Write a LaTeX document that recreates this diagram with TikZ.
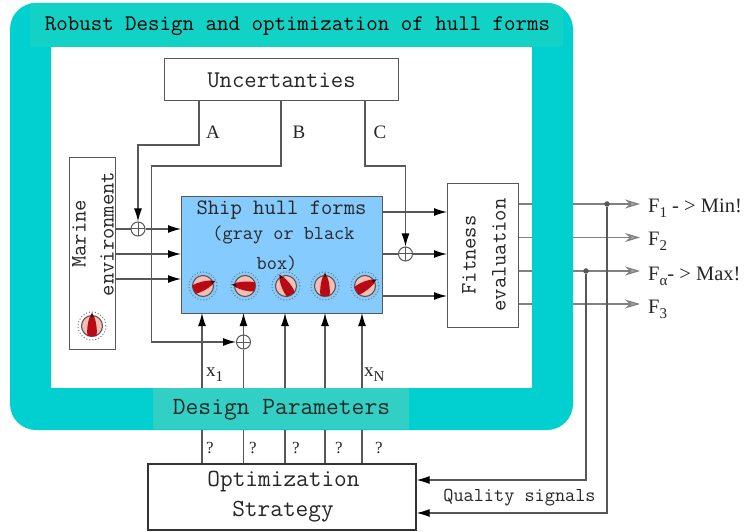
\documentclass[tikz,border=0pt]{standalone}
\usepackage{fontspec}
\setmainfont{Liberation Serif}
\setmonofont{Latin Modern Mono}
\usetikzlibrary{arrows.meta}
\definecolor{frameteal}{HTML}{02D0D0}
\definecolor{titleteal}{HTML}{12D2C6}
\definecolor{designteal}{HTML}{32D0C4}
\definecolor{hullblue}{HTML}{85CBFD}
\definecolor{linegray}{HTML}{585858}
\definecolor{dialpink}{HTML}{F8BDB4}
\definecolor{dialred}{HTML}{B80A14}
\newcommand{\ttsize}[1]{\fontsize{#1}{#1}\selectfont\ttfamily}
\newcommand{\rmsize}[1]{\fontsize{#1}{#1}\selectfont\rmfamily}
\newcommand{\fsub}[1]{\raisebox{-5pt}{\rmsize{15}#1}}
\tikzset{
  boxnode/.style={draw=linegray,line width=1.2pt,fill=white,inner sep=0pt,anchor=north west},
  conn/.style={draw=linegray,line width=1.2pt},
  arr/.style={conn,-{Latex[length=13pt,width=8pt,black]}},
  outarr/.style={conn,draw=gray,-{Stealth[length=15pt,width=9pt,fill=gray!70,color=gray]}},
  plusnode/.style={circle,draw=linegray,line width=1pt,minimum size=14pt,inner sep=0pt,
    path picture={\draw[linegray,line width=1pt]
      (path picture bounding box.north) -- (path picture bounding box.south)
      (path picture bounding box.west) -- (path picture bounding box.east);}},
  jdot/.style={circle,fill=linegray,minimum size=5.5pt,inner sep=0pt},
  lab/.style={font=\rmsize{20.5},text=black!85,inner sep=0pt},
  mono/.style={font=\ttsize{24},text=black!85,inner sep=0pt,align=center},
  pics/dial/.style={code={
    \draw[linegray!80,line width=1pt,dotted] (0,0) circle (14pt);
    \fill[dialpink] (0,0) circle (10.5pt);
    \draw[linegray,line width=1.1pt] (0,0) circle (10.5pt);
    \begin{scope}[rotate=#1]
      \fill[dialred] (-4.5,10) -- (4.5,10) .. controls (5.5,2) and (4,-4) .. (2.2,-9.5)
        -- (-2.2,-9.5) .. controls (-4,-4) and (-5.5,2) .. (-4.5,10) -- cycle;
      \fill[dialred!40!black] (-1.8,-9) -- (0,-13.5) -- (1.8,-9) -- cycle;
    \end{scope}
  }},
}
\begin{document}
\begin{tikzpicture}[x=1pt,y=-1pt]
\useasboundingbox (0,0) rectangle (748,532);
\fill[white] (0,0) rectangle (748,532);

% boxes
\node[boxnode,minimum width=234pt,minimum height=42pt] (unc) at (164,58) {};
\node[boxnode,minimum width=46pt,minimum height=192pt] (marine) at (69,157) {};
\node[boxnode,fill=hullblue,minimum width=201pt,minimum height=117pt] (hull) at (181,196) {};
\node[boxnode,minimum width=71pt,minimum height=144pt] (fit) at (447,183) {};
\node[boxnode,line width=1.6pt,draw=black!80,minimum width=268pt,minimum height=66pt] (opt) at (147,463) {};

\node[mono] (unctext) at (281.5,80) {Uncertanties};
\node[mono,font=\ttsize{22}] (hulltext1) at (281.5,210) {Ship hull forms};
\node[mono,font=\ttsize{19.7}] (hulltext2) at (283.5,235) {(gray or black};
\node[mono,font=\ttsize{19.7}] (hulltext3) at (277,263) {box)};
\node[mono,rotate=90,font=\ttsize{22}] (mtext1) at (79,234) {Marine};
\node[mono,rotate=90,font=\ttsize{22}] (mtext2) at (107,234) {environment};
\node[mono,rotate=90,font=\ttsize{22}] (ftext1) at (469,255) {Fitness};
\node[mono,rotate=90,font=\ttsize{22}] (ftext2) at (499,255) {evaluation};
\node[mono,font=\ttsize{24.6}] (opttext1) at (283.5,482) {Optimization};
\node[mono,font=\ttsize{24.6}] (opttext2) at (283,512) {Strategy};
\node[mono,font=\ttsize{19.7}] (qual) at (519.5,498) {Quality signals};

% dials
\pic at (203,286) {dial=-68};
\pic at (245,286) {dial=84};
\pic at (286,286) {dial=30};
\pic at (325,286) {dial=0};
\pic at (365,286) {dial=-60};
\pic at (92,326) {dial=0};

% sums
\node[plusnode] (plusA) at (138,229) {};
\node[plusnode] (plusB) at (243.5,342) {};
\node[plusnode] (plusC) at (405.5,254) {};

% coordinates on hull / fit
\coordinate (in1) at (181,229);
\coordinate (in2) at (181,254);
\coordinate (in3) at (181,279);
\coordinate (o1) at (382,212);
\coordinate (o2) at (382,254);
\coordinate (o3) at (382,296);
\coordinate (uA) at (199,100);
\coordinate (uB) at (281,100);
\coordinate (uC) at (365,100);
\coordinate (v1) at (202,313);
\coordinate (v2) at (243.5,313);
\coordinate (v3) at (285,313);
\coordinate (v4) at (325,313);
\coordinate (v5) at (362,313);

% uncertainty lines
\draw[arr] (uA) -- (199,145) -- (138,145) -- (plusA.north);
\draw[arr] (uB) -- (281,166) -- (151.5,166) -- (151.5,342) -- (plusB.west);
\draw[arr] (uC) -- (365,166) -- (405.5,166) -- (plusC.north);

% marine to hull
\draw[conn] (marine.east |- in1) -- (plusA.west);
\draw[arr] (plusA.east) -- (in1);
\draw[arr] (marine.east |- in2) -- (in2);
\draw[arr] (marine.east |- in3) -- (in3);

% hull to fit
\draw[arr] (o1) -- (fit.west |- o1);
\draw[conn] (o2) -- (plusC.west);
\draw[arr] (plusC.east) -- (fit.west |- o2);
\draw[arr] (o3) -- (fit.west |- o3);

% design params
\draw[arr] (v1 |- opt.north) -- (v1);
\draw[conn] (v2 |- opt.north) -- (plusB.south);
\draw[arr] (plusB.north) -- (v2);
\draw[arr] (v3 |- opt.north) -- (v3);
\draw[arr] (v4 |- opt.north) -- (v4);
\draw[arr] (v5 |- opt.north) -- (v5);

% outputs
\coordinate (e1) at (640,204);
\coordinate (e2) at (640,237.5);
\coordinate (e3) at (640,271);
\coordinate (e4) at (640,304);
\coordinate (q1y) at (586,480);
\coordinate (q2y) at (607,513);
\draw[outarr] (fit.east |- e1) -- (e1);
\draw[outarr] (fit.east |- e2) -- (e2);
\draw[outarr] (fit.east |- e3) -- (e3);
\draw[outarr] (fit.east |- e4) -- (e4);
\node[jdot] (j1) at (607,204) {};
\node[jdot] (j2) at (586,271) {};
\draw[arr] (j2) -- (q1y) -- (opt.east |- q1y);
\draw[arr] (j1) -- (q2y) -- (opt.east |- q2y);

% frame on top of the lines
\fill[frameteal,even odd rule,rounded corners=26pt] (10,3) rectangle (573,430)
  [sharp corners] (51,47) rectangle (532,388);
\begin{scope}
\clip[rounded corners=26pt] (10,3) rectangle (573,430);
\node[anchor=north west,fill=titleteal,minimum width=533pt,minimum height=44pt,inner sep=0pt] (titleband) at (30,3) {};
\end{scope}
\node[font=\ttsize{22.3},text=black,inner sep=0pt] (titletext) at (297.5,26) {Robust Design and optimization of hull forms};
\node[anchor=north west,fill=designteal,minimum width=256pt,minimum height=41pt,inner sep=0pt] (designband) at (153,388) {};
\node[font=\ttsize{24.8},text=black!85,inner sep=0pt] (designtext) at (281.5,410) {Design Parameters};

% labels
\node[lab,font=\rmsize{19}] (la) at (213,132) {A};
\node[lab,font=\rmsize{19}] (lb) at (299,132) {B};
\node[lab,font=\rmsize{19}] (lc) at (380,132) {C};
\node[lab,font=\rmsize{19},anchor=base west] (x1) at (206,376) {x\fsub{1}};
\node[lab,font=\rmsize{19},anchor=base west] (xn) at (364,376) {x\fsub{N}};
\node[lab,font=\rmsize{17}] (q1) at (210,448) {?};
\node[lab,font=\rmsize{17}] (q2) at (253,448) {?};
\node[lab,font=\rmsize{17}] (q3) at (296,448) {?};
\node[lab,font=\rmsize{17}] (q4) at (339,448) {?};
\node[lab,font=\rmsize{17}] (q5) at (379,448) {?};
\node[lab,anchor=base west] (f1) at (648,213) {F\fsub{1} - > Min!};
\node[lab,anchor=base west] (f2) at (648,246) {F\fsub{2}};
\node[lab,anchor=base west] (f3) at (648,280) {F\fsub{α}- > Max!};
\node[lab,anchor=base west] (f4) at (648,313) {F\fsub{3}};
\end{tikzpicture}
\end{document}
